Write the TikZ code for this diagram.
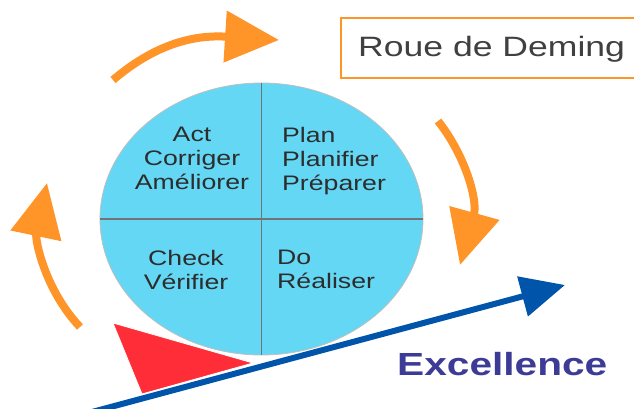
\documentclass[tikz,border=0pt]{standalone}
\usepackage{fontspec}
\setmainfont{Liberation Sans}[FakeStretch=1.27]
\usetikzlibrary{arrows.meta,shapes.geometric}

\definecolor{wheelblue}{RGB}{100,215,245}
\definecolor{cycleorange}{RGB}{255,148,40}
\definecolor{trendblue}{RGB}{0,85,170}
\definecolor{excelblue}{RGB}{60,60,150}
\definecolor{wedgered}{RGB}{255,45,55}
\definecolor{textgray}{RGB}{45,45,45}

\tikzset{
  cyclearrow/.style={line width=8pt, draw=cycleorange, -{Triangle[length=54pt,width=50pt]}},
  phase/.style={font=\fontsize{21}{24}\selectfont, text=textgray, inner sep=0pt},
}

\begin{document}
\begin{tikzpicture}[x=1pt, y=-1pt]
                \clip (0,0) rectangle (634,409);

                % wheel
                \node[ellipse, fill=wheelblue, draw=black!25, line width=0.8pt,
                      minimum width=323pt, minimum height=272pt, inner sep=0pt] (wheel) at (261.5,219) {};
                \draw[black!55, line width=1.2pt] (wheel.north) -- (wheel.south);
                \draw[black!55, line width=1.2pt] (wheel.west) -- (wheel.east);

                \node[phase, anchor=north, align=center] (act) at (192,127) {Act\\Corriger\\Améliorer};
                \node[phase, anchor=north west, align=left] (plan) at (282,127) {Plan\\Planifier\\Préparer};
                \node[phase, anchor=north, align=center] (check) at (186,250) {Check\\Vérifier};
                \node[phase, anchor=north west, align=left] (do) at (277,250) {Do\\Réaliser};

                % cycle arrows
                \coordinate (topA) at (113,80);
                \coordinate (topB) at (279,40);
                \draw[cyclearrow] (topA) .. controls (160,40) and (200,35) .. (topB);

                \coordinate (rightA) at (438,121);
                \coordinate (rightB) at (460,265);
                \draw[cyclearrow] (rightA) .. controls (465,155) and (478,200) .. (rightB);

                \coordinate (leftA) at (80,327);
                \coordinate (leftB) at (47,183);
                \draw[cyclearrow] (leftA) .. controls (45,290) and (35,240) .. (leftB);

                % wedge and trend
                \fill[wedgered, draw=white, line width=0.8pt] (113,323) -- (253,363) -- (142,394) -- cycle;
                \coordinate (trendA) at (92,412);
                \coordinate (trendB) at (565,285);
                \draw[line width=6pt, trendblue, -{Triangle[length=44pt,width=40pt]}] (trendA) -- (trendB);

                \node[anchor=base west, inner sep=0pt, font=\fontsize{32}{36}\selectfont\bfseries, text=excelblue]
                      (excel) at (397,375) {Excellence};

                % title
                \draw[cycleorange, line width=2pt] (341,18) rectangle (660,78);
                \node[anchor=base west, inner sep=0pt, font=\fontsize{28}{32}\selectfont, text=black!75]
                      (title) at (358,57) {Roue de Deming};
            \end{tikzpicture}
\end{document}
